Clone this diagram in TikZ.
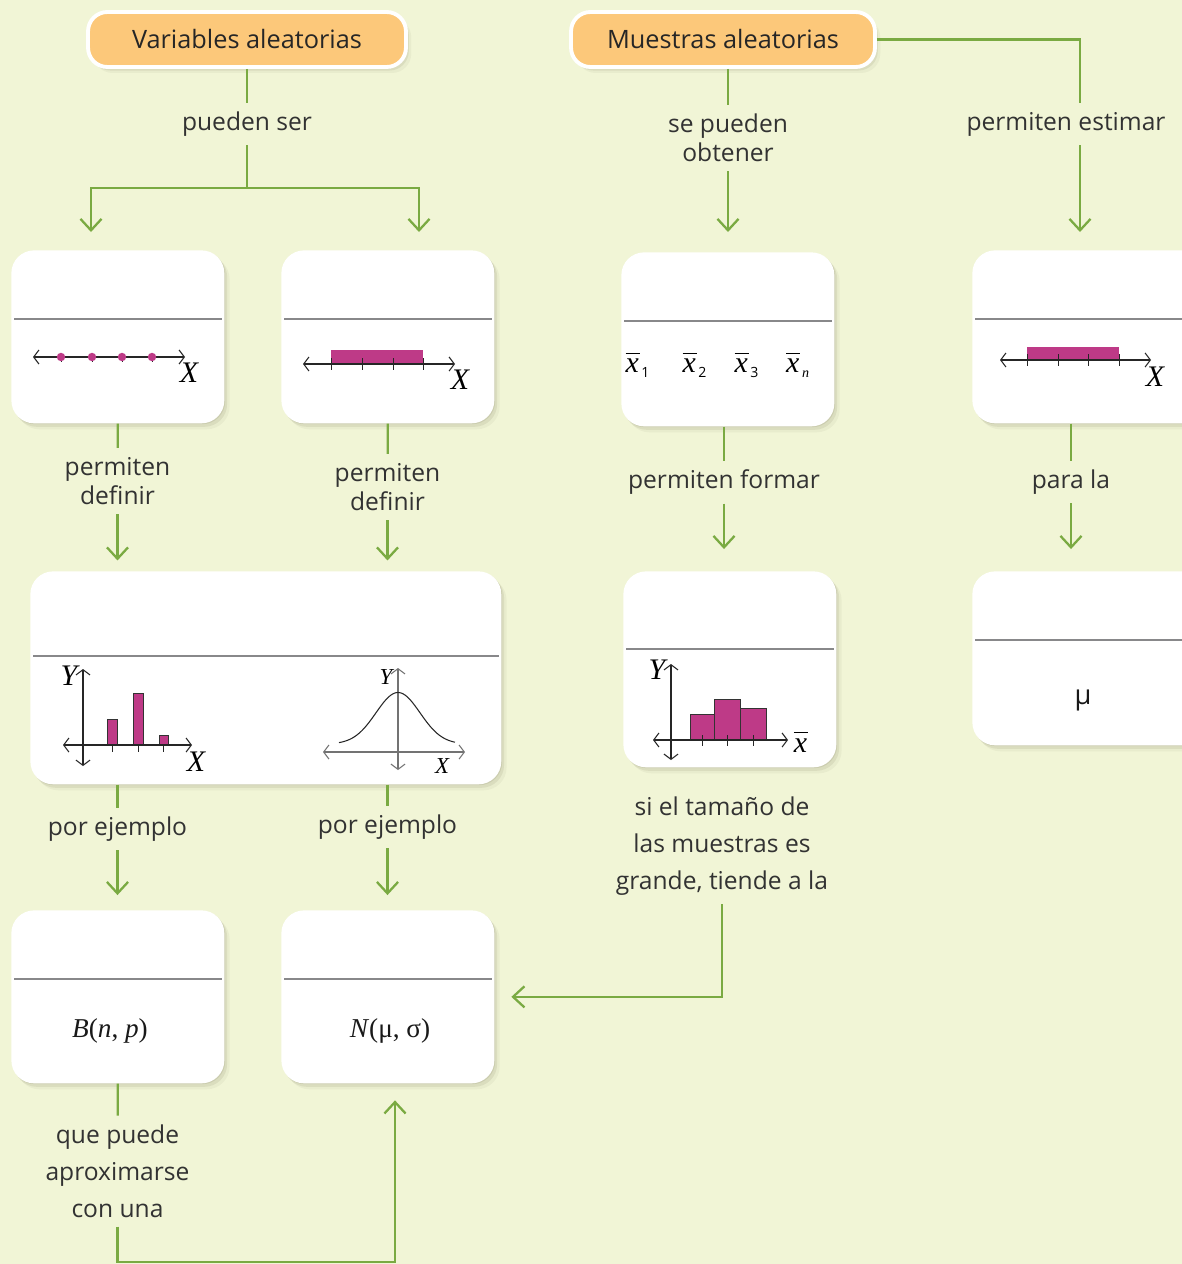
\documentclass[tikz,border=0pt]{standalone}
\usepackage{fontspec}
\setmainfont{Open Sans}
\newfontfamily\timesfont{Liberation Serif}
\usetikzlibrary{arrows.meta, calc, positioning, shadows}
\definecolor{paper}{RGB}{241,245,214}
\definecolor{leaf}{RGB}{122,170,66}
\definecolor{apricot}{RGB}{252,200,122}
\definecolor{berry}{RGB}{190,58,135}
\definecolor{rulegray}{RGB}{136,136,138}
\definecolor{ink}{RGB}{50,50,50}

\newcommand\meanof[1]{$\overline{\mbox{\vphantom{t}\textit{x}\hspace{0.5pt}}}_{\mbox{\normalfont\fontsize{8}{8}\selectfont\hspace{1pt}#1}}$}

\tikzset{
	softshadow/.style={
		drop shadow={shadow xshift=0.5pt, shadow yshift=-0.5pt, fill=black!60!olive, opacity=.10},
		drop shadow={shadow xshift=1.6pt, shadow yshift=-2pt, fill=black!60!olive, opacity=.09},
		drop shadow={shadow xshift=3pt, shadow yshift=-3.4pt, fill=black!60!olive, opacity=.05}},
	card/.style={fill=white, rounded corners=13pt, anchor=north west, inner sep=0pt,
		minimum width=4.26cm, minimum height=3.46cm, softshadow},
	header/.style={fill=apricot, draw=white, line width=2.2pt, rounded corners=11pt,
		minimum height=1.1cm, text=black!85, font=\fontsize{14.4}{17}\selectfont, softshadow},
	lbl/.style={text=ink, align=center, inner sep=5pt, font=\fontsize{14}{16.8}\selectfont},
	link/.style={draw=leaf, line width=1.3pt},
	flow/.style={link, -{Straight Barb[length=6.5pt,width=12pt]}},
	divider/.style={draw=rulegray, line width=1.4pt},
	numline/.style={draw=black!85, line width=0.6pt,
		{Straight Barb[length=3pt,width=8pt]}-{Straight Barb[length=3pt,width=8pt]}},
	tick/.style={draw=black!85, line width=0.5pt},
	bar/.style={fill=berry, draw=black!80, line width=0.5pt},
	varlabel/.style={inner sep=0pt, font=\timesfont\itshape\fontsize{17}{17}\selectfont},
	formula/.style={inner sep=0pt, text=black!90, font=\timesfont\fontsize{15.5}{16}\selectfont},
}

\begin{document}
\begin{tikzpicture}[x=0.02cm, y=-0.02cm]
	\useasboundingbox (0,0) rectangle (1182,1264);
	\clip (0,0) rectangle (1182,1264);
	\fill[paper] (0,0) rectangle (1182,1264);

	%--------------------------------------------------------------------
	\node(varhead) [header, minimum width=6.36cm] at (247,39.5) {Variables aleatorias};
	\node(muehead) [header, minimum width=6.08cm] at (723,39.5) {Muestras aleatorias};

	%--------------------------------------------------------------------
	\node(discreta) [card] at (11,250) {};
	\node(continua) [card] at (281,250) {};
	\node(medias) [card, minimum height=3.48cm] at (621,252) {};
	\node(intervalo) [card, minimum width=4.8cm] at (972,250) {};
	\node(modelos) [card, minimum width=9.42cm, minimum height=4.26cm] at (30,571) {};
	\node(muestral) [card, minimum height=3.92cm] at (623,571) {};
	\node(parametro) [card, minimum width=4.8cm, minimum height=3.48cm] at (972,571) {};
	\node(binomial) [card] at (11,910) {};
	\node(normal) [card] at (281,910) {};

	\foreach \card/\drop in {discreta/69, continua/69, medias/69, intervalo/69, modelos/85,
			muestral/78, parametro/69, binomial/69, normal/69}
		\draw[divider] ($(\card.north west)+(3,\drop)$) -- ($(\card.north east)+(-3,\drop)$);

	%--------------------------------------------------------------------
	% discrete values on the line
	\draw[numline] (33,357) -- (185,357);
	\foreach \d in {61,92,122,152} {
		\draw[tick] (\d,353) -- (\d,362);
		\fill[berry] (\d,357) circle (2.4pt);
	}
	\node(xdisc) [varlabel] at (189,373) {X};

	% continuous range
	\fill[berry] (331,350) rectangle (423,364);
	\draw[numline] (303,364) -- (455,364);
	\foreach \d in {331,362,393,423} \draw[tick] (\d,358) -- (\d,370);
	\node(xcont) [varlabel] at (460,380) {X};

	% sample means
	\foreach \x/\s in {638/1, 695/2, 747/3, 798/{\timesfont\itshape n}}
		\node [inner sep=0pt, font=\timesfont\fontsize{17}{17}\selectfont] at (\x,365) {\meanof{\s}};

	% interval estimate
	\fill[berry] (1027,347) rectangle (1119,360);
	\draw[numline] (1000,360) -- (1151,360);
	\foreach \d in {1027,1058,1088,1119} \draw[tick] (\d,354) -- (\d,366);
	\node(xint) [varlabel] at (1155,377) {X};

	%--------------------------------------------------------------------
	% probability bars
	\draw[bar] (107,719) rectangle (117,745);
	\draw[bar] (133,693) rectangle (143,745);
	\draw[bar] (159,735) rectangle (168,745);
	\draw[numline] (83,766) -- (83,669);
	\draw[numline] (63,745) -- (192,745);
	\foreach \d in {112,138,163} \draw[tick] (\d,745) -- (\d,752);
	\node(ybar) [varlabel] at (69,676) {Y};
	\node(xbar) [varlabel] at (196,762) {X};

	% density curve
	\draw[numline, draw=black!55] (398,770) -- (398,668);
	\draw[numline, draw=black!55] (323,752) -- (465,752);
	\draw[line width=0.6pt, black!85] plot[domain=339:455, samples=80, smooth]
		(\x, {744-51.5*exp(-0.5*((\x-398)/22)^2)});
	\node(ybell) [varlabel, font=\timesfont\itshape\fontsize{13}{13}\selectfont] at (386,677) {Y};
	\node(xbell) [varlabel, font=\timesfont\itshape\fontsize{13}{13}\selectfont] at (442,766) {X};

	% histogram of the means
	\draw[bar] (690,714) rectangle (714,740);
	\draw[bar] (714,699) rectangle (740,740);
	\draw[bar] (740,708) rectangle (766,740);
	\draw[numline] (671,760) -- (671,664);
	\draw[numline] (653,740) -- (788,740);
	\foreach \d in {702,727,753} \draw[tick] (\d,735) -- (\d,746);
	\node(yhist) [varlabel] at (657,670) {Y};
	\node(xhist) [inner sep=0pt, font=\timesfont\fontsize{17}{17}\selectfont] at (801,742) {$\overline{\mbox{\vphantom{t}\textit{x}\hspace{0.5pt}}}$};

	%--------------------------------------------------------------------
	\node(mu) [inner sep=0pt, text=black!90, font=\fontsize{15.5}{16}\selectfont] at (1083,700) {μ};
	\node(bnp) [formula] at (110,1031) {\textit{B}(\textit{n}, \textit{p})};
	\node(nms) [formula] at (390,1031) {\textit{N}(μ, σ)};

	%--------------------------------------------------------------------
	\node(puedenser) [lbl] at (247,124) {pueden ser};
	\node(obtener) [lbl] at (728,138) {se pueden\\obtener};
	\node(estimar) [lbl] at (1066,124) {permiten estimar};
	\node(definira) [lbl] at (117.5,481) {permiten\\definir};
	\node(definirb) [lbl] at (387.5,487) {permiten\\definir};
	\node(formar) [lbl] at (724,482) {permiten formar};
	\node(parala) [lbl] at (1071,482) {para la};
	\node(ejemploa) [lbl] at (117.5,829) {por ejemplo};
	\node(ejemplob) [lbl] at (387.5,827) {por ejemplo};
	\node(tamano) [lbl, font=\fontsize{14}{21}\selectfont] at (722,846) {si el tamaño de\\las muestras es\\grande, tiende a la};
	\node(aproximar) [lbl, font=\fontsize{14}{21}\selectfont] at (117.5,1171) {que puede\\aproximarse\\con una};

	%--------------------------------------------------------------------
	\coordinate (ramal) at (247,188);
	\coordinate (haciaa) at (91,232);
	\coordinate (haciab) at (419,232);
	\coordinate (haciac) at (728,232);
	\coordinate (haciad) at (1080,232);
	\coordinate (retorno) at (395,1262);

	\draw[link] (varhead.south) -- (puedenser);
	\draw[link] (puedenser) -- (ramal);
	\draw[flow] (ramal) -| (haciaa);
	\draw[flow] (ramal) -| (haciab);

	\draw[link] (obtener.north |- muehead.south) -- (obtener);
	\draw[flow] (obtener) -- (haciac);
	\draw[link] (muehead.east) -| (haciad |- estimar.north);
	\draw[flow] (haciad |- estimar.south) -- (haciad);

	\draw[link] (discreta.south) -- (definira);
	\draw[flow, shorten >=6pt] (definira) -- (definira |- modelos.north);
	\draw[link] (continua.south) -- (definirb);
	\draw[flow, shorten >=6pt] (definirb) -- (definirb |- modelos.north);
	\draw[link] (formar.north |- medias.south) -- (formar);
	\draw[flow, shorten >=12.5pt] (formar) -- (formar |- muestral.north);
	\draw[link] (parala.north |- intervalo.south) -- (parala);
	\draw[flow, shorten >=12.5pt] (parala) -- (parala |- parametro.north);

	\draw[link] (ejemploa.north |- modelos.south) -- (ejemploa);
	\draw[flow, shorten >=8.5pt] (ejemploa) -- (ejemploa |- binomial.north);
	\draw[link] (ejemplob.north |- modelos.south) -- (ejemplob);
	\draw[flow, shorten >=8.5pt] (ejemplob) -- (ejemplob |- normal.north);

	\draw[flow, shorten >=9.5pt] (tamano) |- (normal.east);
	\draw[link] (binomial.south) -- (aproximar);
	\draw[flow, shorten >=9.5pt] (aproximar) |- (retorno) -- (retorno |- normal.south);
\end{tikzpicture}
\end{document}
